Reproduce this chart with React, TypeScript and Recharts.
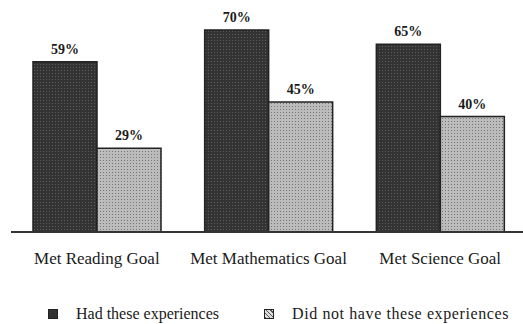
import React from "react";
import { BarChart, Bar, XAxis, YAxis, LabelList } from "recharts";

const categories = ["Met Reading Goal", "Met Mathematics Goal", "Met Science Goal"];
const hadExperiences = [59, 70, 65];
const didNotHave = [29, 45, 40];
const seriesNames = ["Had these experiences", "Did not have these experiences"];

const data = categories.map((name, i) => ({
  name,
  had: hadExperiences[i],
  didNot: didNotHave[i],
}));

const FONT = "'Liberation Serif', 'DejaVu Serif', serif";

function LegendSwatch({ dark }: { dark: boolean }) {
  return (
    <span
      style={{
        display: "inline-block",
        width: 10,
        height: 10,
        boxSizing: "border-box",
        border: "1px solid #222",
        background: dark
          ? "#333"
          : "repeating-linear-gradient(45deg, #555 0 1px, #ddd 1px 3px)",
        marginRight: 18,
        verticalAlign: "middle",
      }}
    />
  );
}

export default function App() {
  return (
    <div
      style={{
        position: "absolute",
        left: 0,
        top: 0,
        width: 523,
        height: 324,
        overflow: "hidden",
        background: "#fff",
        fontFamily: FONT,
      }}
    >
      <BarChart
        width={527}
        height={324}
        data={data}
        margin={{ top: 1, right: 1, left: 11, bottom: 52 }}
        barGap={0}
        barSize={64}
      >
        <defs>
          <pattern id="darkDots" width="3" height="3" patternUnits="userSpaceOnUse">
            <rect width="3" height="3" fill="#333" />
            <rect x="1" y="1" width="1" height="1" fill="#5e5e5e" />
          </pattern>
          <pattern id="lightDots" width="3" height="3" patternUnits="userSpaceOnUse">
            <rect width="3" height="3" fill="#bcbcbc" />
            <rect x="1" y="1" width="1" height="1" fill="#777" />
          </pattern>
        </defs>
        <XAxis
          dataKey="name"
          height={40}
          axisLine={{ stroke: "#333", strokeWidth: 2 }}
          tickLine={false}
          tickMargin={14}
          tick={{ fontSize: 17, fill: "#1a1a1a", fontFamily: FONT }}
          interval={0}
        />
        <YAxis hide domain={[0, 80]} />
        <Bar
          dataKey="had"
          name={seriesNames[0]}
          fill="url(#darkDots)"
          stroke="#222"
          strokeWidth={1.5}
          isAnimationActive={false}
        >
          <LabelList
            dataKey="had"
            position="top"
            offset={8}
            formatter={(v: any) => `${v}%`}
            style={{ fontSize: 14, fill: "#1a1a1a", fontFamily: FONT, fontWeight: 600 }}
          />
        </Bar>
        <Bar
          dataKey="didNot"
          name={seriesNames[1]}
          fill="url(#lightDots)"
          stroke="#222"
          strokeWidth={1.5}
          isAnimationActive={false}
        >
          <LabelList
            dataKey="didNot"
            position="top"
            offset={8}
            formatter={(v: any) => `${v}%`}
            style={{ fontSize: 14, fill: "#1a1a1a", fontFamily: FONT, fontWeight: 600 }}
          />
        </Bar>
      </BarChart>
      <div
        style={{
          position: "absolute",
          left: 48,
          top: 304,
          fontSize: 16,
          color: "#1a1a1a",
          whiteSpace: "nowrap",
          lineHeight: "18px",
        }}
      >
        <LegendSwatch dark />
        <span style={{ verticalAlign: "middle" }}>{seriesNames[0]}</span>
      </div>
      <div
        style={{
          position: "absolute",
          left: 264,
          top: 304,
          fontSize: 16,
          color: "#1a1a1a",
          whiteSpace: "nowrap",
          lineHeight: "18px",
        }}
      >
        <LegendSwatch dark={false} />
        <span style={{ verticalAlign: "middle", letterSpacing: 0.6 }}>{seriesNames[1]}</span>
      </div>
    </div>
  );
}
